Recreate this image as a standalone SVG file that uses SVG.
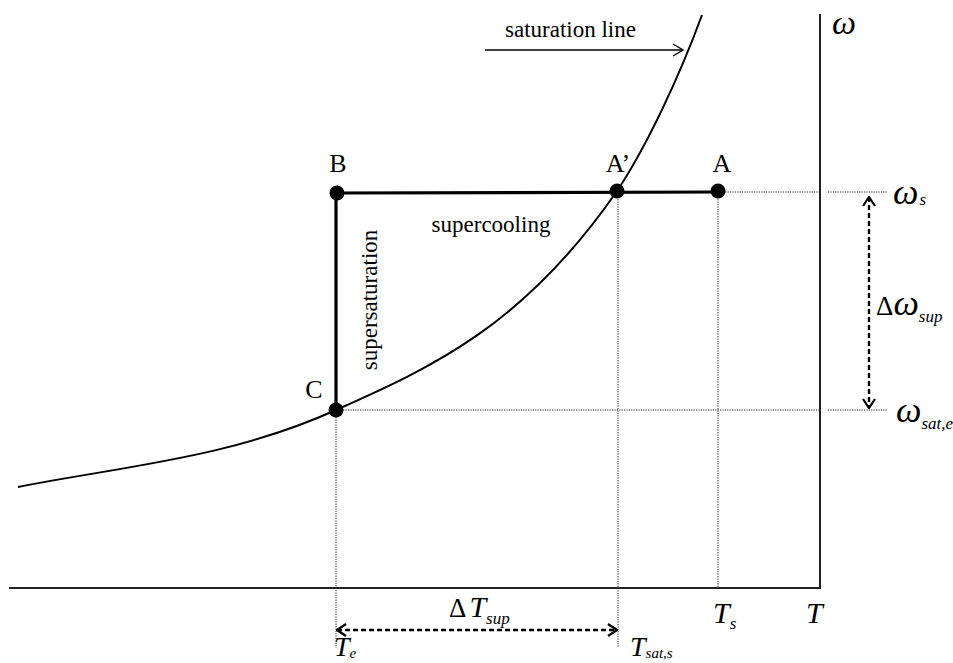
<svg xmlns="http://www.w3.org/2000/svg" width="953" height="663" viewBox="0 0 953 663">
<defs>
<style>
.t{font-family:"Liberation Serif","Times New Roman",serif;fill:#000}
.i{font-style:italic}
.axis{stroke:#222;stroke-width:2;fill:none}
.dot{stroke:#222;stroke-width:1;stroke-dasharray:1.2,1.2;fill:none}
.thick{stroke:#000;stroke-width:3.2;fill:none}
.curve{stroke:#000;stroke-width:2;fill:none}
.dash{stroke:#000;stroke-width:2.4;stroke-dasharray:5,3;fill:none}
.pt{fill:#000}
</style>
<marker id="chev" viewBox="0 0 12 14" refX="11" refY="7" markerWidth="12" markerHeight="14" markerUnits="userSpaceOnUse" orient="auto-start-reverse">
<path d="M2,1 L11,7 L2,13" fill="none" stroke="#000" stroke-width="2.2"/>
</marker>
<marker id="thin" viewBox="0 0 12 14" refX="11" refY="7" markerWidth="12" markerHeight="14" markerUnits="userSpaceOnUse" orient="auto">
<path d="M1,1 L11,7 L1,13" fill="none" stroke="#000" stroke-width="1.3"/>
</marker>
</defs>
<rect width="953" height="663" fill="#fff"/>
<g id="connectors">
<path class="axis" d="M820,14 L820,588 L9,588"/>
<path class="dot" d="M718,192 L820,192 M828,192 L887,192"/>
<path class="dot" d="M336,410 L820,410 M828,410 L887,410"/>
<path class="dot" d="M618,192 L618,648"/>
<path class="dot" d="M718,192 L718,588"/>
<path class="dot" d="M336,410 L336,648"/>
<path class="curve" d="M18,487 C124,466 230,458 336,410 C430,368 523,327 617,191 C647,146 680,75 702,15"/>
<path class="thick" d="M336,410 L336,193 L718,192"/>
<line class="dash" x1="869" y1="197" x2="869" y2="408" marker-start="url(#chev)" marker-end="url(#chev)"/>
<line class="dash" x1="337" y1="630" x2="617" y2="630" marker-start="url(#chev)" marker-end="url(#chev)"/>
<line x1="485" y1="50" x2="683" y2="50" stroke="#000" stroke-width="1.4" marker-end="url(#thin)"/>
</g>
<g id="node-B"><circle class="pt" cx="337" cy="193" r="7.5"/><text class="t" x="338" y="172" font-size="26" text-anchor="middle">B</text></g>
<g id="node-A-prime"><circle class="pt" cx="617" cy="191" r="7.5"/><text class="t" x="618" y="172" font-size="26" text-anchor="middle">A’</text></g>
<g id="node-A"><circle class="pt" cx="718" cy="191" r="7.5"/><text class="t" x="722" y="172" font-size="26" text-anchor="middle">A</text></g>
<g id="node-C"><circle class="pt" cx="336" cy="410" r="7.5"/><text class="t" x="314" y="398" font-size="26" text-anchor="middle">C</text></g>
<g id="labels">
<text class="t" x="505" y="37" font-size="23">saturation line</text>
<text class="t" x="491" y="232" font-size="23" text-anchor="middle">supercooling</text>
<text class="t" transform="translate(377,300) rotate(-90)" font-size="23" text-anchor="middle">supersaturation</text>
<text class="t i" x="832" y="34" font-size="34">ω</text>
<text class="t" x="893" y="204" font-size="36"><tspan class="i">ω</tspan><tspan class="i" font-size="17" dx="1" dy="1">s</tspan></text>
<text class="t" x="876" y="315" font-size="27">Δ<tspan class="i" font-size="36">ω</tspan><tspan class="i" font-size="17" dy="7">sup</tspan></text>
<text class="t" x="896" y="422" font-size="36"><tspan class="i">ω</tspan><tspan class="i" font-size="17" dy="7">sat,e</tspan></text>
<text class="t" x="449" y="617" font-size="27">Δ<tspan class="i" font-size="30" dx="3">T</tspan><tspan class="i" font-size="17" dy="7">sup</tspan></text>
<text class="t i" x="713" y="623" font-size="30">T<tspan font-size="17" dy="6">s</tspan></text>
<text class="t i" x="806" y="623" font-size="30">T</text>
<text class="t i" x="334" y="656" font-size="28">T<tspan font-size="15" dy="2">e</tspan></text>
<text class="t i" x="630" y="656" font-size="28">T<tspan font-size="15" dy="2">sat,s</tspan></text>
</g>
</svg>
